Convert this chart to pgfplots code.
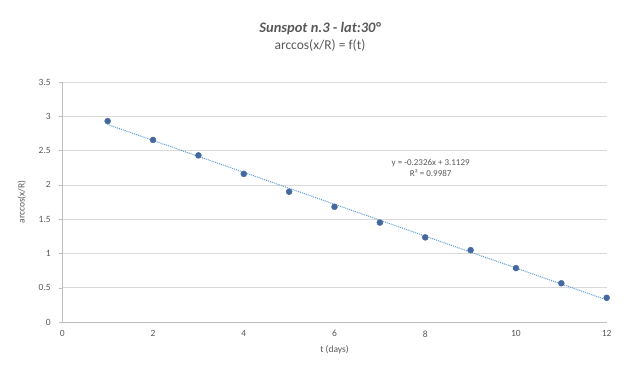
\documentclass[border=0pt]{standalone}
\usepackage{fontspec}
\setmainfont{Carlito}
\usepackage{pgfplots}
\pgfplotsset{compat=1.18}
\definecolor{txt}{HTML}{595959}
\definecolor{grid}{HTML}{D9D9D9}
\definecolor{axl}{HTML}{BFBFBF}
\definecolor{mk}{RGB}{68,105,160}
\definecolor{trend}{HTML}{5B9BD5}
\begin{document}
\begin{tikzpicture}[x=1pt,y=1pt]
\path[use as bounding box] (-62.3,-49) rectangle (567.7,322);
\begin{axis}[
  at={(0,0)}, anchor=origin,
  scale only axis, width=544.4pt, height=240pt,
  xmin=0, xmax=12, ymin=0, ymax=3.5,
  xtick={0,2,4,6,8,10,12},
  ytick={0,0.5,1,1.5,2,2.5,3,3.5},
  ymajorgrids, major grid style={color=grid, line width=0.6pt},
  axis line style={color=axl, line width=0.6pt},
  axis x line*=bottom, axis y line*=left,
  x axis line style={-}, y axis line style={-},
  tick style={draw=none},
  ytick style={draw=axl}, ytick align=outside, major tick length=3pt,
  xtick style={draw=none},
  /pgf/number format/assume math mode=true,
  ticklabel style={font=\fontsize{9.5}{11}\selectfont, text=txt},
  yticklabel style={xshift=-5pt},
  xticklabel style={yshift=-5pt},
  xlabel={t (days)}, ylabel={arccos(x/R)},
  label style={font=\fontsize{9.5}{11}\selectfont, text=txt},
  xlabel style={yshift=-2pt},
  ylabel style={yshift=6pt},
  clip=false,
]
\addplot[trend, densely dotted, line width=1pt, forget plot] coordinates {(1,2.8803) (12,0.3217)};
\addplot[only marks, mark=*, mark size=3pt, mark options={fill=mk, draw=mk}] coordinates {
(1,2.93) (2,2.655) (3,2.43) (4,2.16) (5,1.90) (6,1.68)
(7,1.45) (8,1.234) (9,1.048) (10,0.786) (11,0.565) (12,0.353)};
\node[font=\fontsize{9}{11}\selectfont, text=txt, align=center] at (axis cs:8.12,2.24) {y = -0.2326x + 3.1129\\R² = 0.9987};
\end{axis}
\node[font=\fontsize{14.5}{16}\selectfont\bfseries\itshape, text=txt] at (257.7,293) {Sunspot n.3 - lat:30°};
\node[font=\fontsize{13.5}{16}\selectfont, text=txt] at (257.7,276) {arccos(x/R) = f(t)};
\end{tikzpicture}
\end{document}
